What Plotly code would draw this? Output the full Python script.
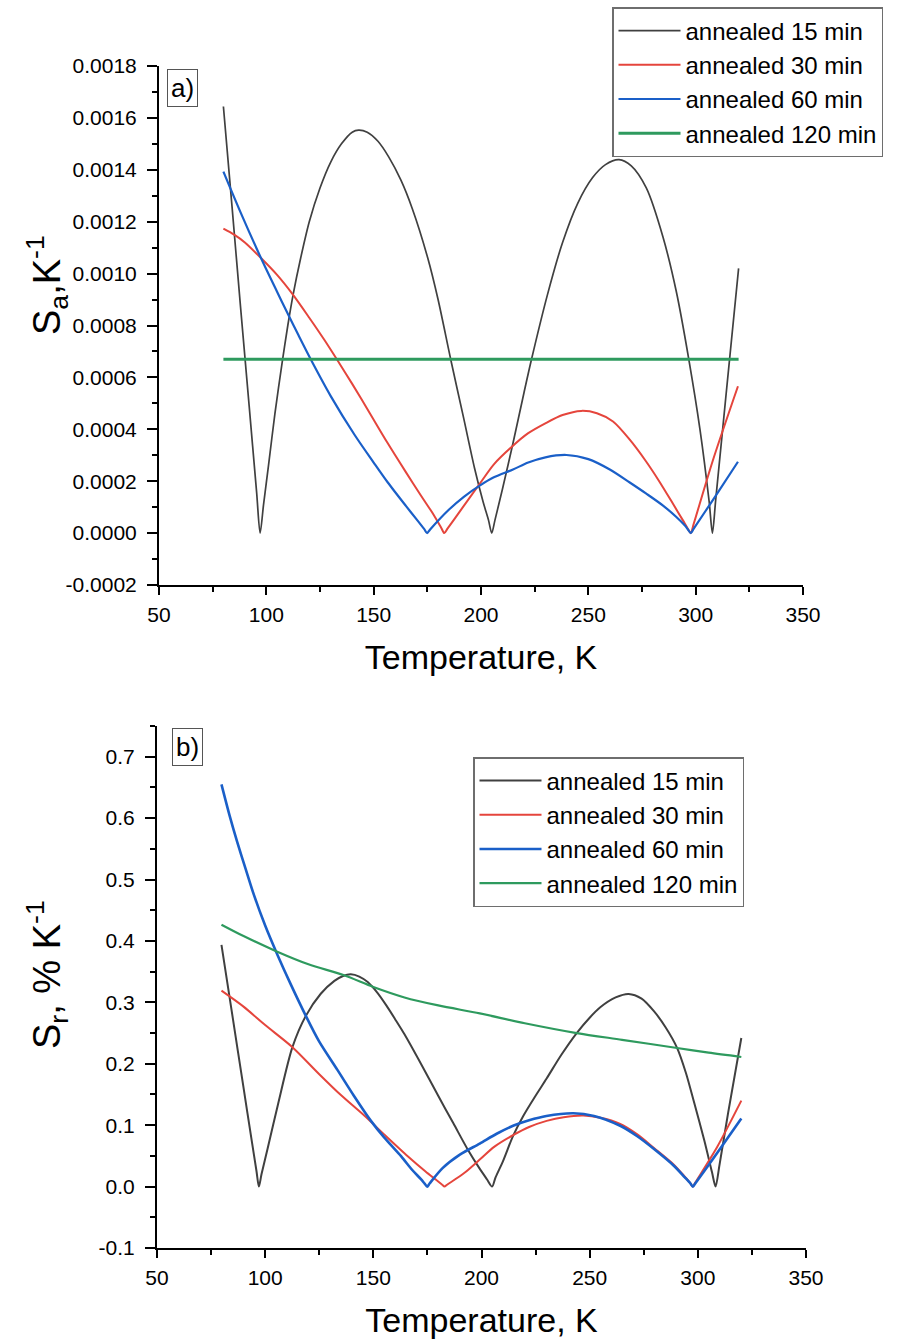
import plotly.graph_objects as go

# ---------------- data: panel a) S_a (K^-1) ----------------
sa15_T = [80, 84, 88, 92, 95.5, 97.1, 98.7, 101, 104, 107.5, 110, 112.5, 116, 120, 125, 130, 135, 140, 143, 147, 152, 157, 162.7, 168,
          175.2, 180, 186, 192, 197, 201, 203.5, 205, 206.5, 210, 215, 220, 223.4, 231, 238, 245, 252, 258, 264.3, 270, 277, 284.8,
          291, 296.9, 302, 306.3, 307.8, 309.3, 314, 320]
sa15_v = [1.644e-3, 1.26e-3, 0.87e-3, 0.49e-3, 0.155e-3, 0.0, 0.11e-3, 0.26e-3, 0.46e-3, 0.665e-3, 0.80e-3, 0.92e-3, 1.06e-3, 1.20e-3,
          1.33e-3, 1.43e-3, 1.50e-3, 1.545e-3, 1.553e-3, 1.545e-3, 1.51e-3, 1.45e-3, 1.36e-3, 1.25e-3,
          1.06e-3, 0.90e-3, 0.665e-3, 0.44e-3, 0.25e-3, 0.12e-3, 0.05e-3, 0.0, 0.05e-3, 0.17e-3, 0.35e-3, 0.54e-3, 0.665e-3, 0.92e-3,
          1.12e-3, 1.27e-3, 1.37e-3, 1.42e-3, 1.439e-3, 1.415e-3, 1.33e-3, 1.14e-3,
          0.93e-3, 0.665e-3, 0.40e-3, 0.12e-3, 0.0, 0.125e-3, 0.52e-3, 1.02e-3]

sa30_T = [80, 85, 90, 97.5, 105, 112.3, 120, 127, 133.2, 140, 148, 156.5, 165, 172, 178, 181.5, 182.9, 184.3, 190, 199.4, 206, 214,
          222, 230.4, 238, 246.7, 254, 261.5, 269.3, 277, 283, 289.5, 294, 296.3, 297.7, 299.1, 308, 319.7]
sa30_v = [1.173e-3, 1.15e-3, 1.12e-3, 1.06e-3, 0.995e-3, 0.92e-3, 0.83e-3, 0.745e-3, 0.665e-3, 0.575e-3, 0.465e-3, 0.347e-3,
          0.235e-3, 0.145e-3, 0.07e-3, 0.02e-3, 0.0, 0.016e-3, 0.082e-3, 0.19e-3, 0.265e-3, 0.33e-3,
          0.385e-3, 0.425e-3, 0.455e-3, 0.471e-3, 0.462e-3, 0.43e-3, 0.36e-3, 0.275e-3, 0.20e-3, 0.112e-3, 0.05e-3, 0.018e-3, 0.0,
          0.036e-3, 0.28e-3, 0.566e-3]

sa60_T = [80, 88, 97.5, 105, 110, 115, 120.8, 130, 141, 150, 156.5, 165, 170, 173.5, 174.9, 176.3, 185, 192, 199.4, 206, 214.9, 222,
          230, 239.8, 250, 260, 269.3, 277, 284.8, 291, 295, 296.4, 297.7, 299.1, 309, 319.7]
sa60_v = [1.393e-3, 1.236e-3, 1.06e-3, 0.93e-3, 0.845e-3, 0.762e-3, 0.668e-3, 0.528e-3, 0.38e-3, 0.272e-3, 0.196e-3, 0.105e-3,
          0.053e-3, 0.016e-3, 0.0, 0.014e-3, 0.09e-3, 0.14e-3, 0.183e-3, 0.215e-3, 0.245e-3, 0.272e-3,
          0.292e-3, 0.301e-3, 0.285e-3, 0.245e-3, 0.195e-3, 0.152e-3, 0.106e-3, 0.062e-3, 0.029e-3, 0.014e-3, 0.0, 0.017e-3,
          0.14e-3, 0.275e-3]

sa120_T = [80, 320]
sa120_v = [0.67e-3, 0.67e-3]

# ---------------- data: panel b) S_r (% K^-1) ----------------
sr15_T = [79.8, 85, 90, 94, 96, 97.1, 98.3, 101, 106, 112.6, 118.8, 125.7, 132, 136, 139.6, 143.5, 147.4, 152, 156, 160, 164.4,
          172, 179.8, 187, 193.7, 199, 202.5, 204.9, 206.5, 210, 214.6, 219.3, 225, 230.1, 237, 244, 250, 254.9, 262, 268, 274,
          279.6, 285, 290.4, 294.5, 298.2, 303, 306.5, 308.2, 310, 314, 320.1]
sr15_v = [0.3935, 0.275, 0.161, 0.07, 0.025, 0.0, 0.02, 0.06, 0.135, 0.227, 0.278, 0.314, 0.335, 0.343, 0.3456, 0.342, 0.333,
          0.315, 0.295, 0.273, 0.248,
          0.2, 0.149, 0.103, 0.06, 0.03, 0.012, 0.0, 0.015, 0.042, 0.0826, 0.115, 0.148, 0.176, 0.215, 0.25, 0.275, 0.292, 0.308,
          0.3137, 0.306,
          0.286, 0.26, 0.226, 0.185, 0.138, 0.075, 0.024, 0.0, 0.035, 0.12, 0.242]

sr30_T = [79.8, 90, 100, 112.6, 125, 135, 145.8, 155, 165.9, 174, 179, 181.7, 182.9, 184.1, 192, 199.2, 206, 214.6, 222, 230.1,
          238, 247.1, 255, 264.1, 272, 279.6, 288.9, 294, 296.5, 297.7, 298.9, 309, 320.1]
sr30_v = [0.319, 0.293, 0.263, 0.227, 0.183, 0.149, 0.1156, 0.085, 0.0495, 0.025, 0.011, 0.0035, 0.0, 0.003, 0.022, 0.044, 0.065,
          0.0837, 0.097, 0.107,
          0.113, 0.1156, 0.112, 0.102, 0.085, 0.0633, 0.0358, 0.016, 0.0055, 0.0, 0.007, 0.065, 0.140]

sr60_T = [79.8, 83.5, 87.1, 91, 94.8, 100, 105.6, 112, 118.8, 125, 133.4, 141, 148.9, 155, 162.8, 168, 172, 173.8, 174.9, 176,
          182, 190, 199.2, 207, 214.6, 222, 230, 242.5, 252, 264.1, 272, 279.6, 288.9, 294, 296.6, 297.7, 298.8, 309, 320.1]
sr60_v = [0.655, 0.605, 0.561, 0.517, 0.475, 0.425, 0.378, 0.328, 0.278, 0.236, 0.19, 0.148, 0.107, 0.08, 0.0495, 0.027, 0.012,
          0.0045, 0.0, 0.005,
          0.03, 0.052, 0.07, 0.086, 0.099, 0.108, 0.115, 0.1194, 0.115, 0.099, 0.082, 0.0616, 0.034, 0.015, 0.005, 0.0, 0.005,
          0.055, 0.111]

sr120_T = [79.8, 90, 105.6, 120, 136.5, 150, 164.4, 180, 199.2, 220, 244, 265, 290.4, 305, 320.1]
sr120_v = [0.4265, 0.408, 0.3825, 0.362, 0.344, 0.325, 0.308, 0.295, 0.282, 0.266, 0.25, 0.239, 0.2257, 0.218, 0.211]

series_names = ["annealed 15 min", "annealed 30 min", "annealed 60 min", "annealed 120 min"]
colors = ["#404040", "#e5453c", "#1a5fc8", "#2e9a5e"]

x_ticks = [50, 100, 150, 200, 250, 300, 350]
x_ticktext = ["50", "100", "150", "200", "250", "300", "350"]
ya_ticks = [-0.0002, 0.0, 0.0002, 0.0004, 0.0006, 0.0008, 0.0010, 0.0012, 0.0014, 0.0016, 0.0018]
ya_ticktext = ["-0.0002", "0.0000", "0.0002", "0.0004", "0.0006", "0.0008", "0.0010", "0.0012", "0.0014", "0.0016", "0.0018"]
yb_ticks = [-0.1, 0.0, 0.1, 0.2, 0.3, 0.4, 0.5, 0.6, 0.7]
yb_ticktext = ["-0.1", "0.0", "0.1", "0.2", "0.3", "0.4", "0.5", "0.6", "0.7"]

FONT = "Liberation Sans, Arial, sans-serif"
W, H = 901, 1339

fig = go.Figure()

top_sets = [(sa15_T, sa15_v, 1.7), (sa30_T, sa30_v, 2.0), (sa60_T, sa60_v, 2.2), (sa120_T, sa120_v, 3.0)]
for (t, v, w), name, c in zip(top_sets, series_names, colors):
    fig.add_trace(go.Scatter(x=t, y=v, mode="lines", name=name,
                             line=dict(color=c, width=w, shape="spline", smoothing=0.8),
                             xaxis="x", yaxis="y", legend="legend"))

bot_sets = [(sr15_T, sr15_v, 2.0), (sr30_T, sr30_v, 2.0), (sr60_T, sr60_v, 2.6), (sr120_T, sr120_v, 2.2)]
for (t, v, w), name, c in zip(bot_sets, series_names, colors):
    fig.add_trace(go.Scatter(x=t, y=v, mode="lines", name=name,
                             line=dict(color=c, width=w, shape="spline", smoothing=0.8),
                             xaxis="x2", yaxis="y2", legend="legend2"))

axis_common = dict(showline=True, linecolor="black", linewidth=2, ticks="outside", tickwidth=2,
                   tickcolor="black", showgrid=False, zeroline=False, automargin=False,
                   tickfont=dict(family=FONT, size=21, color="black"))
minor_x = dict(dtick=25, ticklen=5, tickwidth=2, tickcolor="black", ticks="outside", showgrid=False)
title_x = dict(text="Temperature, K", font=dict(family=FONT, size=34, color="black"), standoff=20)

fig.update_layout(
    width=W, height=H, margin=dict(l=0, r=0, t=0, b=0, autoexpand=False),
    paper_bgcolor="white", plot_bgcolor="white",
    font=dict(family=FONT, color="black"),
    xaxis=dict(domain=[159 / W, 803 / W], anchor="y", range=[50, 350], tickvals=x_ticks, ticktext=x_ticktext,
               ticklen=8, minor=minor_x, title=title_x, ticklabelstandoff=2, **axis_common),
    yaxis=dict(domain=[1 - 585 / H, 1 - 66 / H], anchor="x", range=[-0.0002, 0.0018], tickvals=ya_ticks,
               ticktext=ya_ticktext, ticklen=10, ticklabelstandoff=6,
               minor=dict(dtick=0.0001, ticklen=5, tickwidth=2, tickcolor="black", ticks="outside", showgrid=False),
               **axis_common),
    xaxis2=dict(domain=[157 / W, 806 / W], anchor="y2", range=[50, 350], tickvals=x_ticks, ticktext=x_ticktext,
                ticklen=8, minor=minor_x, title=title_x, ticklabelstandoff=2, **axis_common),
    yaxis2=dict(domain=[1 - 1248 / H, 1 - 726 / H], anchor="x2", range=[-0.1, 0.75], tickvals=yb_ticks,
                ticktext=yb_ticktext, ticklen=10, ticklabelstandoff=6,
                minor=dict(dtick=0.05, ticklen=5, tickwidth=2, tickcolor="black", ticks="outside", showgrid=False),
                **axis_common),
    legend=dict(x=612 / W, y=1 - 7 / H, xanchor="left", yanchor="top", bgcolor="white",
                bordercolor="#6e6e6e", borderwidth=1.5, font=dict(family=FONT, size=24, color="black"),
                itemwidth=62, tracegroupgap=0),
    legend2=dict(x=473 / W, y=1 - 757 / H, xanchor="left", yanchor="top", bgcolor="white",
                 bordercolor="#6e6e6e", borderwidth=1.5, font=dict(family=FONT, size=24, color="black"),
                 itemwidth=62, tracegroupgap=0),
    annotations=[
        dict(text="a)", xref="paper", yref="paper", x=167 / W, y=1 - 69 / H, xanchor="left", yanchor="top",
             showarrow=False, font=dict(family=FONT, size=26, color="black"), bordercolor="#555", borderwidth=1, borderpad=3),
        dict(text="b)", xref="paper", yref="paper", x=172 / W, y=1 - 728 / H, xanchor="left", yanchor="top",
             showarrow=False, font=dict(family=FONT, size=26, color="black"), bordercolor="#555", borderwidth=1, borderpad=3),
        dict(text="S<sub>a</sub>,K<sup>-1</sup>", xref="paper", yref="paper", x=47 / W, y=1 - 285 / H,
             xanchor="center", yanchor="middle", textangle=-90, showarrow=False,
             font=dict(family=FONT, size=38, color="black")),
        dict(text="S<sub>r</sub>, % K<sup>-1</sup>", xref="paper", yref="paper", x=47 / W, y=1 - 975 / H,
             xanchor="center", yanchor="middle", textangle=-90, showarrow=False,
             font=dict(family=FONT, size=38, color="black")),
    ],
)

fig.write_html("out.html")
